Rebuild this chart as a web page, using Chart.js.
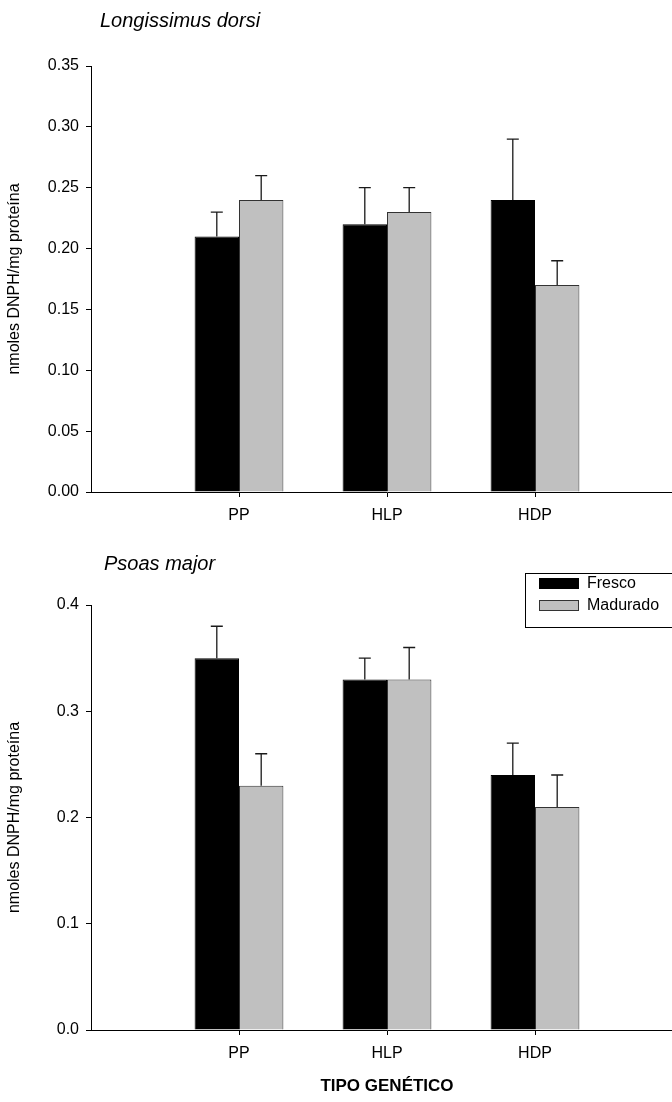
<!DOCTYPE html>
<html>
<head>
<meta charset="utf-8">
<script src="https://cdn.jsdelivr.net/npm/chart.js@4"></script>
<style>
html, body { margin: 0; padding: 0; background: #fff; overflow: hidden; }
#wrap { position: relative; width: 672px; height: 1102px; overflow: hidden; }
.box { position: absolute; left: 0; width: 692px; }
</style>
</head>
<body>
<div id="wrap">
	<div class="box" style="top:0;height:540px"><canvas id="dorsi"></canvas></div>
	<div class="box" style="top:540px;height:562px"><canvas id="psoas"></canvas></div>
</div>
<script>
//data
const categories = ["", "PP", "HLP", "HDP", ""];
const seriesNames = ["Fresco", "Madurado"];

const dorsiFresco = [null, 0.21, 0.22, 0.24, null];
const dorsiFrescoErr = [null, 0.02, 0.03, 0.05, null];
const dorsiMadurado = [null, 0.24, 0.23, 0.17, null];
const dorsiMaduradoErr = [null, 0.02, 0.02, 0.02, null];

const psoasFresco = [null, 0.35, 0.33, 0.24, null];
const psoasFrescoErr = [null, 0.03, 0.02, 0.03, null];
const psoasMadurado = [null, 0.23, 0.33, 0.21, null];
const psoasMaduradoErr = [null, 0.03, 0.03, 0.03, null];

const FONT = "'Liberation Sans', Arial, sans-serif";
Chart.defaults.font.family = FONT;
Chart.defaults.color = "#000";

//error bars (upper only, with a cap)
const errorBars = {
	id: "errorBars",
	afterDatasetsDraw(chart) {
		const { ctx, scales: { y } } = chart;
		ctx.save();
		ctx.strokeStyle = "#1a1a1a";
		ctx.lineWidth = 1.3;
		chart.data.datasets.forEach((ds, i) => {
			chart.getDatasetMeta(i).data.forEach((bar, j) => {
				const v = ds.data[j];
				const e = ds.errors[j];
				if (v == null || e == null) return;
				const yTop = y.getPixelForValue(v + e);
				ctx.beginPath();
				ctx.moveTo(bar.x, bar.y);
				ctx.lineTo(bar.x, yTop);
				ctx.moveTo(bar.x - 6, yTop);
				ctx.lineTo(bar.x + 6, yTop);
				ctx.stroke();
			});
		});
		ctx.restore();
	},
};

//italic panel title
const panelTitle = {
	id: "panelTitle",
	afterDraw(chart, args, opts) {
		if (!opts.text) return;
		const ctx = chart.ctx;
		ctx.save();
		ctx.font = "italic 20px " + FONT;
		ctx.fillStyle = "#000";
		ctx.textAlign = "left";
		ctx.textBaseline = "alphabetic";
		ctx.fillText(opts.text, opts.x, opts.y);
		ctx.restore();
	},
};

//boxed legend
const boxLegend = {
	id: "boxLegend",
	afterDraw(chart, args, opts) {
		if (!opts.show) return;
		const ctx = chart.ctx;
		ctx.save();
		ctx.strokeStyle = "#000";
		ctx.lineWidth = 1;
		ctx.strokeRect(opts.left + 0.5, opts.top + 0.5, 200, opts.height);
		ctx.font = "16px " + FONT;
		ctx.textBaseline = "middle";
		chart.data.datasets.forEach((ds, i) => {
			const cy = opts.top + opts.firstRow + i * opts.rowGap;
			ctx.fillStyle = ds.backgroundColor;
			ctx.fillRect(opts.left + 14, cy - 5, 40, 11);
			ctx.strokeStyle = ds.borderColor;
			ctx.strokeRect(opts.left + 14.5, cy - 4.5, 39, 10);
			ctx.fillStyle = "#000";
			ctx.fillText(ds.label, opts.left + 62, cy + 1);
		});
		ctx.restore();
	},
};

function makeConfig(fresco, frescoErr, madurado, maduradoErr, yMax, yStep, dec, title, xTitle, topPad, xHeight, legend) {
	return {
		type: "bar",
		data: {
			labels: categories,
			datasets: [
				{
					label: seriesNames[0],
					data: fresco,
					errors: frescoErr,
					backgroundColor: "#000000",
					borderColor: "#000000",
					borderWidth: 1,
					categoryPercentage: 0.6,
					barPercentage: 1.0,
				},
				{
					label: seriesNames[1],
					data: madurado,
					errors: maduradoErr,
					backgroundColor: "#c0c0c0",
					borderColor: "#333333",
					borderWidth: 1,
					categoryPercentage: 0.6,
					barPercentage: 1.0,
				},
			],
		},
		options: {
			responsive: true,
			maintainAspectRatio: false,
			animation: false,
			layout: {
				padding: { top: topPad, left: 0, right: 7, bottom: 0 },
			},
			scales: {
				x: {
					type: "category",
					offset: false,
					border: { display: true, color: "#000", width: 1 },
					grid: {
						offset: false,
						drawOnChartArea: false,
						drawTicks: true,
						tickLength: 5,
						color: (c) => (categories[c.index] ? "#000" : "rgba(0,0,0,0)"),
					},
					ticks: {
						autoSkip: false,
						maxRotation: 0,
						padding: 9,
						color: "#000",
						font: { size: 16 },
					},
					title: {
						display: !!xTitle,
						text: xTitle,
						color: "#000",
						font: { size: 17, weight: "bold" },
						padding: { top: 0, bottom: 5 },
					},
					afterFit(scale) {
						scale.height = xHeight;
					},
				},
				y: {
					min: 0,
					max: yMax,
					border: { display: true, color: "#000", width: 1 },
					grid: {
						drawOnChartArea: false,
						drawTicks: true,
						tickLength: 5,
						color: "#000",
					},
					ticks: {
						stepSize: yStep,
						padding: 7,
						color: "#000",
						font: { size: 16 },
						callback: (v) => Number(v).toFixed(dec),
					},
					title: {
						display: true,
						text: "nmoles DNPH/mg proteína",
						color: "#000",
						font: { size: 16 },
						padding: { top: 5, bottom: 0 },
					},
					afterFit(scale) {
						scale.width = 91;
					},
				},
			},
			plugins: {
				legend: { display: false },
				tooltip: { enabled: false },
				panelTitle: title,
				boxLegend: legend,
			},
		},
		plugins: [errorBars, panelTitle, boxLegend],
	};
}

//render
const chartDorsi = new Chart(
	document.getElementById("dorsi"),
	makeConfig(
		dorsiFresco, dorsiFrescoErr, dorsiMadurado, dorsiMaduradoErr,
		0.35, 0.05, 2,
		{ text: "Longissimus dorsi", x: 100, y: 27 },
		"", 66, 48,
		{ show: false }
	)
);

const chartPsoas = new Chart(
	document.getElementById("psoas"),
	makeConfig(
		psoasFresco, psoasFrescoErr, psoasMadurado, psoasMaduradoErr,
		0.4, 0.1, 1,
		{ text: "Psoas major", x: 104, y: 30 },
		"TIPO GENÉTICO", 65, 72,
		{ show: true, left: 525, top: 33, height: 54, firstRow: 10, rowGap: 22 }
	)
);
</script>
</body>
</html>
